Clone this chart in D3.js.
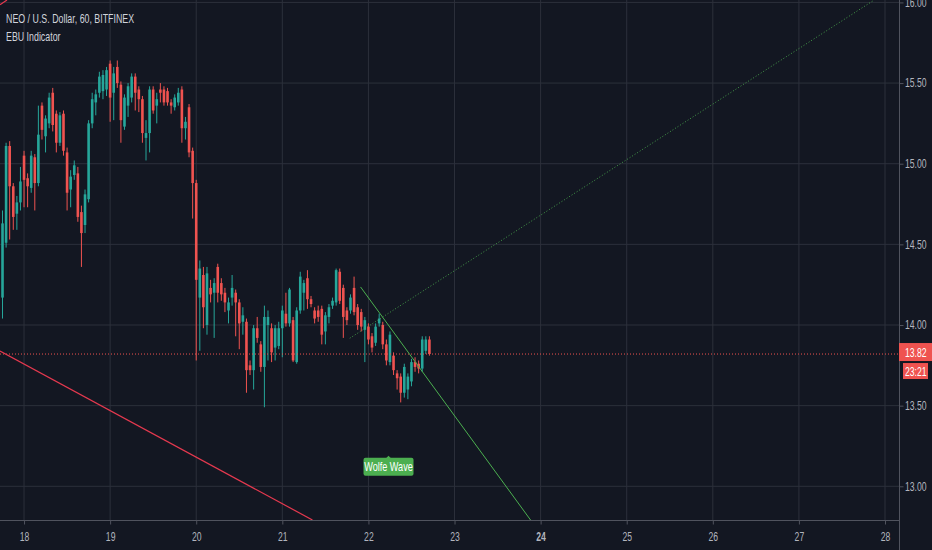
<!DOCTYPE html>
<html>
<head>
<meta charset="utf-8">
<script src="https://cdn.jsdelivr.net/npm/d3@7"></script>
<style>
    body { margin: 0; background: #131722; }
    svg { display: block; }
    text { font-family: "Liberation Sans", Arial, sans-serif; }
</style>
</head>
<body>
<svg id="drawing_region"></svg>
<script>
const title = "NEO / U.S. Dollar, 60, BITFINEX";
const indicatorName = "EBU Indicator";

// hourly candles, first one is 6 hours before day 18 00:00
const firstHour = -6;
const opens = [
    14.17, 14.51, 15.11, 14.86, 14.69, 14.76, 15.05, 14.91, 14.85, 15.04,
    14.88, 15.36, 15.17, 15.25, 15.44, 15.31, 15.13, 15.31, 15.07, 14.84,
    14.93, 14.94, 14.70, 14.62, 14.78, 15.25, 15.38, 15.44, 15.45, 15.46,
    15.62, 15.44, 15.60, 15.49, 15.23, 15.36, 15.41, 15.54, 15.46, 15.40,
    15.16, 15.19, 15.46, 15.36, 15.46, 15.46, 15.45, 15.38, 15.35, 15.38,
    15.46, 15.22, 15.35, 15.08, 14.88, 14.17, 14.31, 14.00, 14.23, 14.20,
    14.36, 14.26, 14.20, 14.09, 14.17, 14.20, 14.14, 14.02, 14.02, 13.75,
    13.72, 13.98, 13.88, 13.74, 14.00, 13.98, 13.86, 13.87, 13.98, 14.07,
    14.01, 14.03, 13.77, 14.09, 14.20, 14.29, 14.16, 14.09, 14.09, 14.10,
    13.96, 14.05, 14.12, 14.14, 14.33, 14.23, 14.09, 14.09, 14.23, 14.11,
    14.08, 13.97, 13.99, 13.93, 13.89, 14.01, 14.00, 13.88, 13.77, 13.81,
    13.70, 13.68, 13.58, 13.60, 13.65, 13.77, 13.76, 13.73, 13.84, 13.91
];
const highs = [
    14.71, 15.13, 15.14, 14.88, 14.80, 14.98, 15.08, 14.94, 15.08, 15.06,
    15.36, 15.38, 15.30, 15.44, 15.47, 15.33, 15.32, 15.33, 15.10, 14.96,
    15.02, 14.98, 14.74, 14.84, 15.27, 15.44, 15.46, 15.57, 15.58, 15.60,
    15.64, 15.60, 15.64, 15.51, 15.43, 15.50, 15.56, 15.56, 15.48, 15.42,
    15.27, 15.48, 15.48, 15.44, 15.50, 15.48, 15.47, 15.40, 15.43, 15.47,
    15.48, 15.29, 15.37, 15.10, 14.90, 14.40, 14.36, 14.36, 14.28, 14.29,
    14.38, 14.29, 14.23, 14.17, 14.31, 14.22, 14.16, 14.11, 14.04, 13.78,
    14.00, 14.05, 13.90, 14.12, 14.09, 14.01, 14.00, 14.02, 14.12, 14.20,
    14.23, 14.05, 14.11, 14.33, 14.28, 14.34, 14.18, 14.11, 14.12, 14.12,
    14.08, 14.13, 14.17, 14.35, 14.35, 14.25, 14.11, 14.19, 14.30, 14.13,
    14.10, 14.05, 14.01, 13.95, 14.01, 14.07, 14.02, 13.91, 13.96, 13.83,
    13.72, 13.70, 13.76, 13.70, 13.79, 13.80, 13.78, 13.93, 13.93, 13.93
];
const lows = [
    14.04, 14.48, 14.53, 14.59, 14.59, 14.71, 14.73, 14.73, 14.82, 14.71,
    14.86, 15.15, 15.07, 15.22, 15.20, 15.07, 15.11, 15.05, 14.71, 14.73,
    14.90, 14.64, 14.36, 14.57, 14.76, 15.22, 15.30, 15.41, 15.40, 15.42,
    15.26, 15.27, 15.47, 15.13, 15.21, 15.29, 15.38, 15.33, 15.32, 15.13,
    15.02, 15.07, 15.31, 15.25, 15.38, 15.36, 15.36, 15.31, 15.33, 15.36,
    15.13, 15.15, 15.04, 14.66, 13.78, 13.84, 13.98, 13.94, 14.14, 13.92,
    14.14, 14.15, 14.08, 14.01, 14.12, 13.93, 13.85, 13.94, 13.58, 13.69,
    13.60, 13.89, 13.71, 13.49, 13.78, 13.77, 13.78, 13.85, 13.80, 13.99,
    13.99, 13.77, 13.76, 14.07, 14.09, 14.10, 14.11, 14.01, 14.02, 13.88,
    13.88, 14.01, 14.10, 14.12, 14.13, 13.92, 14.00, 14.07, 14.06, 13.97,
    13.96, 13.77, 13.88, 13.83, 13.87, 13.99, 13.85, 13.75, 13.75, 13.69,
    13.60, 13.52, 13.55, 13.54, 13.62, 13.71, 13.70, 13.71, 13.82, 13.81
];
const closes = [
    14.63, 15.11, 14.86, 14.67, 14.76, 14.89, 14.90, 14.86, 15.05, 14.88,
    15.18, 15.21, 15.28, 15.41, 15.24, 15.13, 15.30, 15.08, 14.82, 14.92,
    14.99, 14.67, 14.57, 14.81, 15.25, 15.40, 15.43, 15.54, 15.55, 15.58,
    15.41, 15.56, 15.50, 15.27, 15.41, 15.48, 15.54, 15.44, 15.40, 15.19,
    15.19, 15.46, 15.33, 15.40, 15.44, 15.38, 15.38, 15.36, 15.41, 15.44,
    15.22, 15.26, 15.07, 14.88, 14.28, 14.35, 14.11, 14.32, 14.19, 14.26,
    14.20, 14.19, 14.14, 14.14, 14.23, 14.14, 14.01, 14.06, 13.72, 13.72,
    13.98, 13.92, 13.74, 14.05, 14.05, 13.83, 13.98, 13.98, 14.09, 14.01,
    14.22, 13.78, 14.09, 14.30, 14.26, 14.16, 14.13, 14.04, 14.05, 13.94,
    14.06, 14.11, 14.15, 14.34, 14.15, 14.05, 14.03, 14.17, 14.08, 14.00,
    13.99, 14.03, 13.91, 13.86, 13.99, 14.04, 13.88, 13.78, 13.94, 13.72,
    13.67, 13.58, 13.74, 13.68, 13.77, 13.74, 13.73, 13.91, 13.91, 13.82
];

// time axis: hours from day 18 00:00
const dayHours = [0, 24, 48, 72, 96, 120, 144, 168, 192, 216, 240];
const dayLabels = ["18", "19", "20", "21", "22", "23", "24", "25", "26", "27", "28"];
const boldDay = "24";
const priceTicks = [13.0, 13.5, 14.0, 14.5, 15.0, 15.5, 16.0];

const lastPrice = 13.82;
const countdown = "23:21";

// drawn lines (hour, price)
const redLine = [{ hour: -6.7, price: 13.839 }, { hour: 80.4, price: 12.791 }];
const redLineTop = [{ hour: -6.7, price: 15.985 }, { hour: -4.75, price: 16.015 }];
const wolfeTarget = [{ hour: 93.8, price: 14.236 }, { hour: 141.2, price: 12.791 }];
const wolfeDotted = [{ hour: 90.8, price: 13.918 }, { hour: 237.0, price: 16.015 }];
const wolfeLabel = { hour: 101.6, price: 13.19, text: "Wolfe Wave" };

var config = {
    parent: '#drawing_region',
    width: 932,
    height: 550,
    plot_width: 899,
    plot_height: 520,
    squeeze: 0.72,
};

// the screenshot's font is narrow: squash text horizontally around its anchor
function squeeze(sel, k) {
    sel.each(function () {
        const t = d3.select(this);
        const x = +t.attr('x') || 0, y = +t.attr('y') || 0;
        t.attr('x', 0).attr('y', 0)
            .attr('transform', `translate(${x},${y}) scale(${k},1)`);
    });
}

class CandleChart {
    constructor(config) {
        this.config = config;
        this.candles = opens.map((o, i) => ({
            hour: firstHour + i, open: o, high: highs[i], low: lows[i], close: closes[i]
        }));
        this.init();
    }

    init() {
        let self = this;
        const c = self.config;
        self.svg = d3.select(c.parent)
            .attr('width', c.width)
            .attr('height', c.height);

        self.svg.append('rect')
            .attr('width', c.width).attr('height', c.height)
            .attr('fill', '#131722');

        self.xscale = d3.scaleLinear()
            .domain([-6.7, 243.9])
            .range([0, c.plot_width]);
        self.yscale = d3.scaleLinear()
            .domain([12.791, 16.015])
            .range([c.plot_height, 0]);

        self.svg.append('clipPath').attr('id', 'plot_clip')
            .append('rect')
            .attr('width', c.plot_width).attr('height', c.plot_height);

        self.line = d3.line()
            .x(d => self.xscale(d.hour))
            .y(d => self.yscale(d.price));
    }

    update() {
        this.render();
    }

    render() {
        let self = this;
        const c = self.config;
        const k = c.squeeze;
        const up = '#26a69a', down = '#ef5350';

        // grid
        const grid = self.svg.append('g');
        grid.selectAll('.vgrid').data(dayHours).join('line')
            .attr('x1', d => self.xscale(d)).attr('x2', d => self.xscale(d))
            .attr('y1', 0).attr('y2', c.plot_height)
            .attr('stroke', '#2c303b');
        grid.selectAll('.hgrid').data(priceTicks).join('line')
            .attr('x1', 0).attr('x2', c.plot_width)
            .attr('y1', d => self.yscale(d)).attr('y2', d => self.yscale(d))
            .attr('stroke', '#2c303b');

        const plot = self.svg.append('g').attr('clip-path', 'url(#plot_clip)');

        // candles
        const cg = plot.selectAll('.candle').data(self.candles).join('g');
        cg.append('line')
            .attr('x1', d => self.xscale(d.hour)).attr('x2', d => self.xscale(d.hour))
            .attr('y1', d => self.yscale(d.high)).attr('y2', d => self.yscale(d.low))
            .attr('stroke', d => d.close >= d.open ? up : down)
            .attr('stroke-width', 1);
        cg.append('rect')
            .attr('x', d => self.xscale(d.hour) - 1.3)
            .attr('width', 2.6)
            .attr('y', d => self.yscale(Math.max(d.open, d.close)))
            .attr('height', d => Math.max(1, Math.abs(self.yscale(d.open) - self.yscale(d.close))))
            .attr('fill', d => d.close >= d.open ? up : down);

        // last price line
        plot.append('line')
            .attr('x1', 0).attr('x2', c.plot_width)
            .attr('y1', self.yscale(lastPrice)).attr('y2', self.yscale(lastPrice))
            .attr('stroke', down).attr('stroke-dasharray', '1,2');

        // drawn lines
        plot.append('path').attr('d', self.line(redLine))
            .attr('stroke', '#e5394f').attr('stroke-width', 1.2).attr('fill', 'none');
        plot.append('path').attr('d', self.line(redLineTop))
            .attr('stroke', '#e5394f').attr('stroke-width', 1.2).attr('fill', 'none');
        plot.append('path').attr('d', self.line(wolfeTarget))
            .attr('stroke', '#4caf50').attr('stroke-width', 1).attr('fill', 'none');
        plot.append('path').attr('d', self.line(wolfeDotted))
            .attr('stroke', '#4caf50').attr('stroke-width', 1)
            .attr('stroke-dasharray', '1,2').attr('opacity', 0.85).attr('fill', 'none');

        // Wolfe label
        const lx = self.xscale(wolfeLabel.hour), ly = self.yscale(wolfeLabel.price);
        const lab = self.svg.append('g');
        lab.append('path')
            .attr('d', `M${lx - 3},${ly + 3} L${lx},${ly} L${lx + 3},${ly + 3} Z`)
            .attr('fill', '#4caf50');
        lab.append('rect')
            .attr('x', lx - 25).attr('y', ly + 2)
            .attr('width', 50).attr('height', 18).attr('rx', 2)
            .attr('fill', '#4caf50');
        lab.append('text')
            .attr('x', lx).attr('y', ly + 15.5)
            .attr('text-anchor', 'middle')
            .attr('font-size', 12).attr('fill', '#ffffff')
            .text(wolfeLabel.text)
            .call(squeeze, 0.76);

        // axes lines
        self.svg.append('line')
            .attr('x1', 0).attr('x2', c.plot_width)
            .attr('y1', c.plot_height + 0.5).attr('y2', c.plot_height + 0.5)
            .attr('stroke', '#50535e');
        self.svg.append('line')
            .attr('x1', c.plot_width + 0.5).attr('x2', c.plot_width + 0.5)
            .attr('y1', 0).attr('y2', c.height)
            .attr('stroke', '#50535e');

        // price axis
        const yaxis = d3.axisRight(self.yscale)
            .tickValues(priceTicks)
            .tickFormat(d3.format('.2f'))
            .tickSize(4).tickPadding(1.5);
        const yg = self.svg.append('g')
            .attr('transform', `translate(${c.plot_width + 0.5},0)`)
            .call(yaxis);
        yg.select('.domain').remove();
        yg.selectAll('line').attr('stroke', '#50535e');
        yg.selectAll('text').attr('fill', '#b2b5be').attr('font-size', 12)
            .style('font-family', '"Liberation Sans", Arial, sans-serif')
            .call(squeeze, k);

        // time axis
        const xaxis = d3.axisBottom(self.xscale)
            .tickValues(dayHours)
            .tickFormat((d, i) => dayLabels[i])
            .tickSize(4).tickPadding(8);
        const xg = self.svg.append('g')
            .attr('transform', `translate(0,${c.plot_height + 0.5})`)
            .call(xaxis);
        xg.select('.domain').remove();
        xg.selectAll('line').attr('stroke', '#50535e');
        xg.selectAll('text').attr('fill', '#b2b5be').attr('font-size', 12)
            .attr('font-weight', (d, i) => dayLabels[i] === boldDay ? 'bold' : 'normal')
            .style('font-family', '"Liberation Sans", Arial, sans-serif')
            .call(squeeze, k);

        // last price tag and countdown
        const ty = self.yscale(lastPrice) - 2;
        self.svg.append('rect')
            .attr('x', c.plot_width).attr('y', ty - 9)
            .attr('width', c.width - c.plot_width).attr('height', 18)
            .attr('fill', down);
        self.svg.append('text')
            .attr('x', c.plot_width + 6).attr('y', ty + 4.5)
            .attr('font-size', 12).attr('fill', '#ffffff')
            .text(d3.format('.2f')(lastPrice))
            .call(squeeze, k);
        self.svg.append('rect')
            .attr('x', c.plot_width + 4).attr('y', ty + 11)
            .attr('width', 25).attr('height', 16)
            .attr('fill', down);
        self.svg.append('text')
            .attr('x', c.plot_width + 6).attr('y', ty + 23.5)
            .attr('font-size', 12).attr('fill', '#ffffff')
            .text(countdown)
            .call(squeeze, k);

        // legend text
        self.svg.append('text')
            .attr('x', 6).attr('y', 23)
            .attr('font-size', 13).attr('fill', '#d1d4dc')
            .text(title)
            .call(squeeze, 0.68);
        self.svg.append('text')
            .attr('x', 6).attr('y', 41)
            .attr('font-size', 13).attr('fill', '#d1d4dc')
            .text(indicatorName)
            .call(squeeze, 0.68);
    }
}

const chart = new CandleChart(config);
chart.update();
</script>
</body>
</html>
